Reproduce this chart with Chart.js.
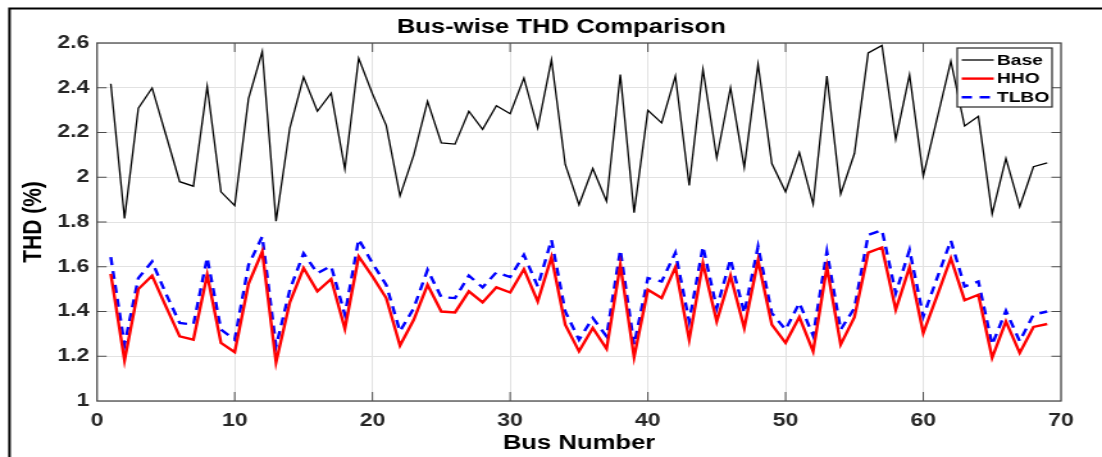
<!DOCTYPE html>
<html lang="en">
<head>
<meta charset="UTF-8">
<title>Bus-wise THD Comparison</title>
<script src="https://cdn.jsdelivr.net/npm/chart.js"></script>
<style>
  html, body { margin: 0; padding: 0; background: #fff; overflow: hidden; }
</style>
</head>
<body>
<!-- the figure is rendered 860px wide and stretched sideways to 1102px -->
<canvas id="thdChart" width="860" height="457" style="width:1102px;height:457px;display:block"></canvas>
<script>
// bus index on the x axis
const busNumbers = [
  1, 2, 3, 4, 5, 6, 7, 8, 9, 10, 11, 12, 13, 14, 15, 16, 17, 18, 19, 20,
  21, 22, 23, 24, 25, 26, 27, 28, 29, 30, 31, 32, 33, 34, 35, 36, 37, 38, 39, 40,
  41, 42, 43, 44, 45, 46, 47, 48, 49, 50, 51, 52, 53, 54, 55, 56, 57, 58, 59, 60,
  61, 62, 63, 64, 65, 66, 67, 68, 69
];

// THD (%) per bus
const baseThd = [
  2.418, 1.816, 2.309, 2.399, 2.190, 1.980, 1.960, 2.406, 1.935, 1.873,
  2.351, 2.562, 1.804, 2.220, 2.448, 2.295, 2.376, 2.037, 2.532, 2.373,
  2.232, 1.917, 2.099, 2.339, 2.153, 2.148, 2.295, 2.214, 2.320, 2.284,
  2.443, 2.220, 2.525, 2.057, 1.877, 2.039, 1.893, 2.459, 1.842, 2.299,
  2.243, 2.452, 1.963, 2.482, 2.087, 2.400, 2.044, 2.504, 2.061, 1.935,
  2.110, 1.880, 2.452, 1.925, 2.106, 2.556, 2.589, 2.170, 2.458, 2.006,
  2.262, 2.519, 2.229, 2.272, 1.836, 2.084, 1.868, 2.047, 2.064
];
const hhoThd = [
  1.568, 1.181, 1.500, 1.560, 1.423, 1.289, 1.274, 1.564, 1.260, 1.218,
  1.524, 1.668, 1.173, 1.441, 1.594, 1.490, 1.545, 1.323, 1.646, 1.557,
  1.460, 1.248, 1.363, 1.519, 1.400, 1.396, 1.490, 1.441, 1.508, 1.485,
  1.589, 1.445, 1.643, 1.341, 1.222, 1.326, 1.233, 1.608, 1.196, 1.497,
  1.460, 1.598, 1.274, 1.616, 1.356, 1.560, 1.326, 1.628, 1.341, 1.260,
  1.375, 1.222, 1.598, 1.252, 1.375, 1.663, 1.686, 1.408, 1.598, 1.304,
  1.470, 1.638, 1.450, 1.475, 1.193, 1.356, 1.215, 1.331, 1.344
];
const tlboThd = [
  1.643, 1.252, 1.549, 1.623, 1.480, 1.349, 1.341, 1.641, 1.319, 1.274,
  1.608, 1.735, 1.245, 1.497, 1.660, 1.571, 1.603, 1.386, 1.723, 1.616,
  1.519, 1.311, 1.415, 1.586, 1.464, 1.460, 1.560, 1.508, 1.575, 1.554,
  1.653, 1.512, 1.720, 1.400, 1.274, 1.371, 1.289, 1.675, 1.252, 1.549,
  1.534, 1.663, 1.356, 1.690, 1.415, 1.634, 1.393, 1.690, 1.393, 1.319,
  1.438, 1.292, 1.668, 1.319, 1.415, 1.742, 1.764, 1.482, 1.675, 1.378,
  1.549, 1.717, 1.512, 1.534, 1.252, 1.403, 1.267, 1.386, 1.400
];

const seriesNames = ['Base', 'HHO', 'TLBO'];
const xTicks = [0, 10, 20, 30, 40, 50, 60, 70];
const yTicks = [1, 1.2, 1.4, 1.6, 1.8, 2, 2.2, 2.4, 2.6];

const AXIS_GREY = '#4d4d4d';
const TEXT_GREY = '#262626';
const FONT = "'Liberation Sans', Arial, sans-serif";

function toPoints(values) {
  return values.map((v, i) => ({ x: busNumbers[i], y: v }));
}

// figure frame, axes box with inward ticks, title and legend
const figureDecor = {
  id: 'figureDecor',
  beforeDraw(chart) {
    const ctx = chart.ctx;
    ctx.save();
    ctx.fillStyle = '#fff';
    ctx.fillRect(0, 0, chart.width, chart.height);
    ctx.restore();
  },
  afterDatasetsDraw(chart) {
    const { ctx, chartArea: a, scales: { x, y } } = chart;
    ctx.save();
    ctx.strokeStyle = AXIS_GREY;
    ctx.lineWidth = 1.3;
    ctx.strokeRect(a.left, a.top, a.right - a.left, a.bottom - a.top);
    ctx.lineWidth = 1;
    ctx.beginPath();
    xTicks.slice(1, -1).forEach(t => {
      const px = x.getPixelForValue(t);
      ctx.moveTo(px, a.bottom); ctx.lineTo(px, a.bottom - 9);
      ctx.moveTo(px, a.top); ctx.lineTo(px, a.top + 9);
    });
    yTicks.slice(1, -1).forEach(t => {
      const py = y.getPixelForValue(t);
      ctx.moveTo(a.left, py); ctx.lineTo(a.left + 7.5, py);
      ctx.moveTo(a.right, py); ctx.lineTo(a.right - 7.5, py);
    });
    ctx.stroke();
    ctx.restore();
  },
  afterDraw(chart) {
    const ctx = chart.ctx;
    ctx.save();

    // outer figure border
    ctx.strokeStyle = '#000';
    ctx.lineWidth = 2;
    ctx.strokeRect(7.4, 8.5, chart.width + 20, chart.height + 20);

    // title
    ctx.fillStyle = '#000';
    ctx.font = `bold 20px ${FONT}`;
    ctx.textAlign = 'center';
    ctx.textBaseline = 'middle';
    ctx.fillText('Bus-wise THD Comparison', 438, 27);

    // legend box
    const lx = 747, ly = 48, lw = 74, lh = 59;
    ctx.fillStyle = '#fff';
    ctx.fillRect(lx, ly, lw, lh);
    ctx.strokeStyle = TEXT_GREY;
    ctx.lineWidth = 1.2;
    ctx.strokeRect(lx, ly, lw, lh);
    ctx.font = `bold 15px ${FONT}`;
    ctx.textAlign = 'left';
    chart.data.datasets.forEach((ds, i) => {
      const rowY = 60 + i * 18.6;
      ctx.strokeStyle = ds.borderColor;
      ctx.lineWidth = ds.borderWidth;
      ctx.setLineDash(ds.borderDash || []);
      ctx.beginPath();
      ctx.moveTo(750.5, rowY);
      ctx.lineTo(775.5, rowY);
      ctx.stroke();
      ctx.setLineDash([]);
      ctx.fillStyle = '#000';
      ctx.fillText(ds.label, 778, rowY + 0.5);
    });
    ctx.restore();
  }
};

new Chart(document.getElementById('thdChart'), {
  type: 'line',
  data: {
    datasets: [
      {
        label: seriesNames[0],
        data: toPoints(baseThd),
        borderColor: '#000000',
        borderWidth: 1.3
      },
      {
        label: seriesNames[1],
        data: toPoints(hhoThd),
        borderColor: '#ff0000',
        borderWidth: 2.4
      },
      {
        label: seriesNames[2],
        data: toPoints(tlboThd),
        borderColor: '#0000ff',
        borderWidth: 2.4,
        borderDash: [8, 6]
      }
    ]
  },
  options: {
    responsive: false,
    devicePixelRatio: 1,
    animation: false,
    events: [],
    elements: {
      point: { radius: 0 },
      line: { tension: 0, borderJoinStyle: 'miter' }
    },
    layout: { padding: { top: 43, right: 32, bottom: 0, left: 0 } },
    plugins: {
      legend: { display: false },
      title: { display: false },
      tooltip: { enabled: false }
    },
    scales: {
      x: {
        type: 'linear',
        min: 0,
        max: 70,
        afterBuildTicks(scale) { scale.ticks = xTicks.map(v => ({ value: v })); },
        afterFit(scale) { scale.height = 56; },
        ticks: {
          color: TEXT_GREY,
          font: { family: FONT, size: 18, weight: 'bold' },
          padding: 9,
          maxRotation: 0,
          autoSkip: false
        },
        grid: { color: '#e2e2e2', lineWidth: 1, drawTicks: false },
        border: { display: false },
        title: {
          display: true,
          text: 'Bus Number',
          color: '#000',
          font: { family: FONT, size: 20, weight: 'bold' },
          padding: { top: 0, bottom: 2 }
        }
      },
      y: {
        min: 1,
        max: 2.6,
        afterBuildTicks(scale) { scale.ticks = yTicks.map(v => ({ value: v })); },
        afterFit(scale) { scale.width = 75.7; },
        ticks: {
          color: TEXT_GREY,
          font: { family: FONT, size: 18, weight: 'bold' },
          padding: 6,
          callback: v => String(+v.toFixed(1))
        },
        grid: { color: '#e2e2e2', lineWidth: 1, drawTicks: false },
        border: { display: false },
        title: {
          display: true,
          text: 'THD (%)',
          color: '#000',
          font: { family: FONT, size: 21, weight: 'bold' },
          padding: { top: 14, bottom: 0 }
        }
      }
    }
  },
  plugins: [figureDecor]
});
</script>
</body>
</html>
